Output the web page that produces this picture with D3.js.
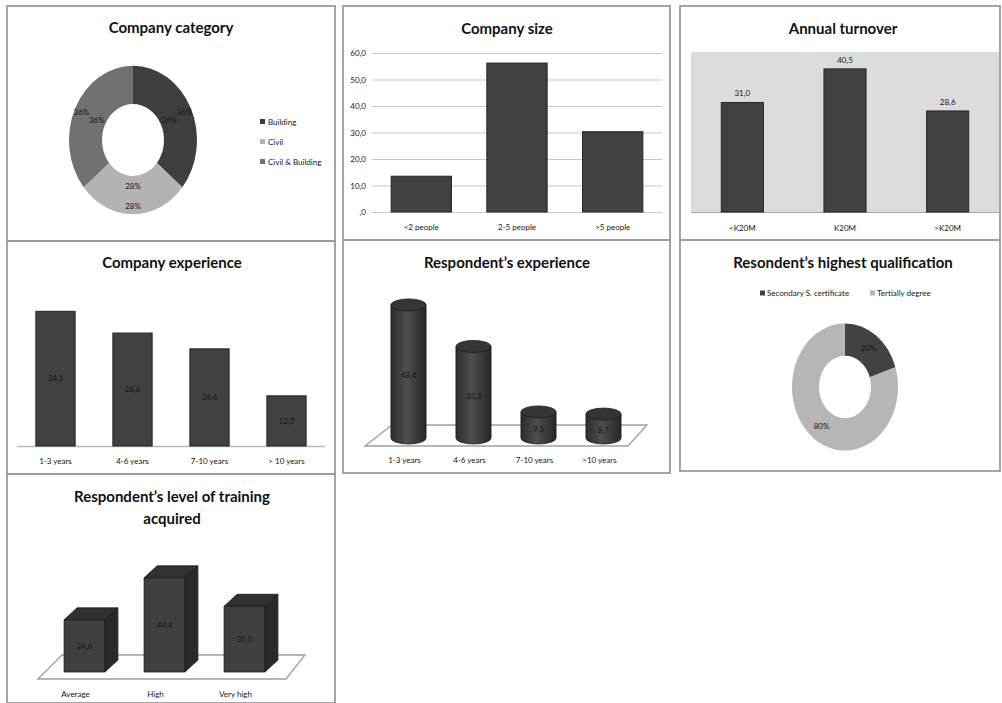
<!DOCTYPE html>
<html><head><meta charset="utf-8">
<script src="https://cdn.jsdelivr.net/npm/d3@7"></script>
<style>
body{margin:0;background:#fff}
svg{display:block}
text{font-family:Lato,"Open Sans",sans-serif}
</style>
</head><body>
<svg id="c" width="1002" height="703"></svg>
<script>
// Survey results, one array per question
const categoryLabels = ["Building", "Civil", "Civil & Building"];
const categoryShares = [36, 28, 36];
const sizeLabels = ["<2 people", "2-5 people", ">5 people"];
const sizeValues = [13.5, 56.2, 30.3];
const sizeTicks = [0, 10, 20, 30, 40, 50, 60];
const turnoverLabels = ["<K20M", "K20M", ">K20M"];
const turnoverValues = [31.0, 40.5, 28.6];
const companyExpLabels = ["1-3 years", "4-6 years", "7-10 years", "> 10 years"];
const companyExpValues = [34.1, 28.6, 24.6, 12.7];
const respExpLabels = ["1-3 years", "4-6 years", "7-10 years", ">10 years"];
const respExpValues = [48.4, 33.3, 9.5, 8.7];
const qualLabels = ["Secondary S. certificate", "Tertially degree"];
const qualShares = [20, 80];
const trainingLabels = ["Average", "High", "Very high"];
const trainingValues = [24.6, 44.4, 31.0];

const fmt = v => v === 0 ? ",0" : v.toFixed(1).replace(".", ",");
const BAR = "#414141", BAR_EDGE = "#262626", INK = "#161616";

const svg = d3.select("#c");

// panel frames
const frames = [
  [7, 6, 328, 235], [343, 6, 327, 234], [680, 6, 320, 234],
  [7, 241, 328, 233], [343, 240, 327, 233], [680, 240, 320, 231],
  [7, 474, 328, 229]
];
svg.selectAll("rect.frame").data(frames).join("rect").attr("class", "frame")
  .attr("x", d => d[0]).attr("y", d => d[1]).attr("width", d => d[2]).attr("height", d => d[3])
  .attr("fill", "none").attr("stroke", "#9c9c9c").attr("stroke-width", 1.8);

function title(x, y, t) {
  svg.append("text").attr("x", x).attr("y", y).attr("text-anchor", "middle")
    .attr("font-size", 15).attr("font-weight", 700).attr("fill", "#111").text(t);
}
function small(g, x, y, t, anchor) {
  return g.append("text").attr("x", x).attr("y", y).attr("text-anchor", anchor || "middle")
    .attr("dy", "0.35em").attr("font-size", 8).attr("fill", INK).text(t);
}
function bottomLabels(scale, y, dx) {
  const ax = svg.append("g").attr("transform", `translate(${dx || 0},${y})`)
    .call(d3.axisBottom(scale).tickSize(0).tickPadding(0));
  ax.select(".domain").remove();
  ax.selectAll("text").attr("font-size", 8).attr("fill", INK).attr("font-family", "Lato").attr("dy", "0.35em").attr("y", 0);
}
const pie = d3.pie().sort(null).value(d => d);

// ---- Company category (donut)
title(171, 33, "Company category");
const catColor = d3.scaleOrdinal().domain(categoryLabels).range(["#3e3e3e", "#b3b3b3", "#717171"]);
const catArcs = pie(categoryShares);
const c1 = {x: 133, y: 140, sy: 1.16};
svg.append("g").attr("transform", `translate(${c1.x},${c1.y}) scale(1,${c1.sy})`)
  .selectAll("path").data(catArcs).join("path")
  .attr("d", d3.arc().innerRadius(31).outerRadius(64))
  .attr("fill", (d, i) => catColor(categoryLabels[i]));
[40, 57].forEach(r => catArcs.forEach(a => {
  const m = (a.startAngle + a.endAngle) / 2;
  small(svg, c1.x + r * Math.sin(m), c1.y - r * Math.cos(m) * c1.sy, a.data + "%");
}));
const leg1 = svg.append("g");
categoryLabels.forEach((l, i) => {
  leg1.append("rect").attr("x", 260).attr("y", 119 + i * 20).attr("width", 5).attr("height", 5).attr("fill", catColor(l));
  small(leg1, 268, 122 + i * 20, l, "start");
});

// ---- Company size (bars with gridlines)
title(507, 34, "Company size");
const x2 = d3.scaleBand().domain(sizeLabels).range([372, 662]).paddingInner(0.37).paddingOuter(0.2);
const y2 = d3.scaleLinear().domain([0, 60]).range([212, 53]);
const ax2 = svg.append("g").attr("transform", "translate(372,0)")
  .call(d3.axisLeft(y2).tickValues(sizeTicks).tickFormat(fmt).tickSize(-290).tickPadding(6));
ax2.select(".domain").remove();
ax2.selectAll("line").attr("stroke", "#c9c9c9").attr("stroke-width", 1.2);
ax2.selectAll("text").attr("font-size", 8).attr("fill", INK).attr("font-family", "Lato");
svg.append("g").selectAll("rect").data(sizeValues).join("rect")
  .attr("x", (d, i) => x2(sizeLabels[i])).attr("width", x2.bandwidth())
  .attr("y", d => y2(d)).attr("height", d => y2(0) - y2(d))
  .attr("fill", BAR).attr("stroke", BAR_EDGE);
bottomLabels(x2, 227);

// ---- Annual turnover (bars on shaded plot area)
title(843, 34, "Annual turnover");
const x3 = d3.scaleBand().domain(turnoverLabels).range([691, 999]).paddingInner(0.59).paddingOuter(0.295);
const y3 = d3.scaleLinear().domain([0, 45]).range([212, 53]);
svg.append("rect").attr("x", 691).attr("y", 52).attr("width", 308).attr("height", 160).attr("fill", "#dcdcdc");
svg.append("line").attr("x1", 691).attr("x2", 999).attr("y1", 212.5).attr("y2", 212.5).attr("stroke", "#a8a8a8");
svg.append("g").selectAll("rect").data(turnoverValues).join("rect")
  .attr("x", (d, i) => x3(turnoverLabels[i])).attr("width", x3.bandwidth())
  .attr("y", d => y3(d)).attr("height", d => y3(0) - y3(d))
  .attr("fill", BAR).attr("stroke", BAR_EDGE);
turnoverValues.forEach((v, i) => small(svg, x3(turnoverLabels[i]) + x3.bandwidth() / 2, y3(v) - 9, fmt(v)));
bottomLabels(x3, 228);

// ---- Company experience
title(172, 268, "Company experience");
const x4 = d3.scaleBand().domain(companyExpLabels).range([17, 325]).paddingInner(0.49).paddingOuter(0.245);
const y4 = d3.scaleLinear().domain([0, 40]).range([446, 288]);
svg.append("line").attr("x1", 17).attr("x2", 325).attr("y1", 446.5).attr("y2", 446.5).attr("stroke", "#b8b8b8").attr("stroke-width", 1.5);
svg.append("g").selectAll("rect").data(companyExpValues).join("rect")
  .attr("x", (d, i) => x4(companyExpLabels[i])).attr("width", x4.bandwidth())
  .attr("y", d => y4(d)).attr("height", d => y4(0) - y4(d))
  .attr("fill", BAR).attr("stroke", BAR_EDGE);
companyExpValues.forEach((v, i) => small(svg, x4(companyExpLabels[i]) + x4.bandwidth() / 2, (y4(v) + y4(0)) / 2, fmt(v)));
bottomLabels(x4, 461);

// ---- Respondent's experience (cylinders)
title(507, 268, "Respondent\u2019s experience");
const x5 = d3.scaleBand().domain(respExpLabels).range([376, 636]).paddingInner(0.46).paddingOuter(0.23);
const y5 = d3.scaleLinear().domain([0, 50]).range([438, 300.5]);
svg.append("polygon").attr("points", "365,446 392,425 647,425 628,446")
  .attr("fill", "#fff").attr("stroke", "#a0a0a0").attr("stroke-width", 1.3);
const defs = svg.append("defs");
const cylGrad = defs.append("linearGradient").attr("id", "cyl");
[["0%", "#2c2c2c"], ["45%", "#4e4e4e"], ["100%", "#262626"]].forEach(s =>
  cylGrad.append("stop").attr("offset", s[0]).attr("stop-color", s[1]));
const ry5 = 6;
respExpValues.forEach((v, i) => {
  const x = x5(respExpLabels[i]), w = x5.bandwidth(), cx = x + w / 2;
  const top = y5(v), bot = y5(0);
  svg.append("path")
    .attr("d", `M${x},${top} L${x},${bot} A${w / 2},${ry5} 0 0 0 ${x + w},${bot} L${x + w},${top} Z`)
    .attr("fill", "url(#cyl)").attr("stroke", "#1c1c1c").attr("stroke-width", 0.8);
  svg.append("ellipse").attr("cx", cx).attr("cy", top).attr("rx", w / 2).attr("ry", ry5)
    .attr("fill", "#353535").attr("stroke", "#1c1c1c").attr("stroke-width", 0.8);
  small(svg, cx, (top + bot) / 2 + 4, fmt(v));
});
bottomLabels(x5, 460, -4);

// ---- Highest qualification (donut)
title(843, 268, "Resondent\u2019s highest qualification");
const qualColor = d3.scaleOrdinal().domain(qualLabels).range(["#424242", "#b6b6b6"]);
const leg6 = svg.append("g");
[[760, 0], [870, 1]].forEach(([lx, i]) => {
  leg6.append("rect").attr("x", lx).attr("y", 290.5).attr("width", 5).attr("height", 5).attr("fill", qualColor(qualLabels[i]));
  small(leg6, lx + 7, 293, qualLabels[i], "start");
});
const c6 = {x: 845, y: 387, sy: 1.2};
const qualArcs = pie(qualShares);
svg.append("g").attr("transform", `translate(${c6.x},${c6.y}) scale(1,${c6.sy})`)
  .selectAll("path").data(qualArcs).join("path")
  .attr("d", d3.arc().innerRadius(26).outerRadius(53))
  .attr("fill", (d, i) => qualColor(qualLabels[i]));
qualArcs.forEach(a => {
  const m = (a.startAngle + a.endAngle) / 2;
  small(svg, c6.x + 40 * Math.sin(m), c6.y - 40 * Math.cos(m) * c6.sy, a.data + "%");
});

// ---- Level of training (3D boxes)
title(172, 502, "Respondent\u2019s level of training");
title(172, 524, "acquired");
const x7 = d3.scaleBand().domain(trainingLabels).range([44.5, 284.5]).paddingInner(0.49).paddingOuter(0.245);
const y7 = d3.scaleLinear().domain([0, 50]).range([672, 566]);
svg.append("polygon").attr("points", "38,679 62,655 305,655 286,679")
  .attr("fill", "#fff").attr("stroke", "#a0a0a0").attr("stroke-width", 1.3);
const dx7 = 13, dy7 = -12;
trainingValues.forEach((v, i) => {
  const x = x7(trainingLabels[i]), w = x7.bandwidth();
  const top = y7(v), bot = y7(0);
  const g = svg.append("g").attr("stroke", "#161616").attr("stroke-width", 0.8).attr("stroke-linejoin", "round");
  g.append("polygon").attr("points", `${x + w},${top} ${x + w + dx7},${top + dy7} ${x + w + dx7},${bot + dy7} ${x + w},${bot}`).attr("fill", "#2a2a2a");
  g.append("polygon").attr("points", `${x},${top} ${x + dx7},${top + dy7} ${x + w + dx7},${top + dy7} ${x + w},${top}`).attr("fill", "#313131");
  g.append("rect").attr("x", x).attr("y", top).attr("width", w).attr("height", bot - top).attr("fill", "#404040");
  small(svg, x + w / 2, (top + bot) / 2, fmt(v));
});
bottomLabels(x7, 694, -9);
</script>
</body></html>
